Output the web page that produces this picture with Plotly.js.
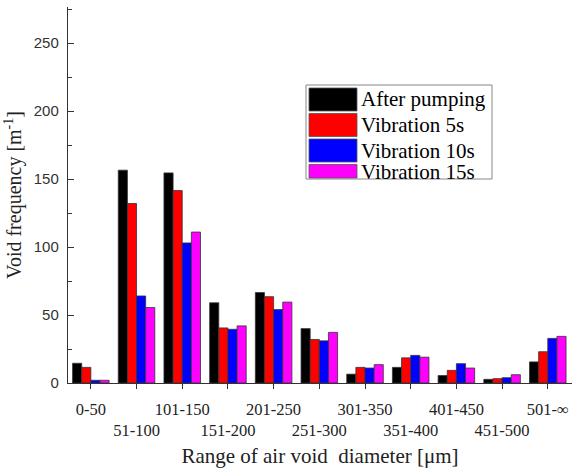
<!DOCTYPE html>
<html>
<head>
<meta charset="utf-8">
<script src="https://cdn.plot.ly/plotly-3.0.1.min.js"></script>
<style>html,body{margin:0;padding:0;background:#fff;}#chart{width:576px;height:472px;}</style>
</head>
<body>
<div id="chart"></div>
<script>
var categories = ["0-50","51-100","101-150","151-200","201-250","251-300","301-350","351-400","401-450","451-500","501-\u221e"];
var seriesNames = ["After pumping","Vibration 5s","Vibration 10s","Vibration 15s"];
var afterPumping = [14.5, 156.5, 154.5, 59, 66.5, 40, 6.5, 11.5, 5.5, 2.7, 15.5];
var vibration5s  = [11.5, 132, 141.5, 40.5, 63.5, 32, 11.5, 18.5, 9.3, 3.2, 23];
var vibration10s = [2, 64, 103, 39.5, 54, 31, 11, 20.3, 14.2, 3.9, 32.8];
var vibration15s = [2, 55.5, 111, 42, 59.5, 37.2, 13.5, 19, 11, 6.1, 34.3];
var colors = ["#000000","#ff0000","#0000ff","#ff00ff"];
var yTicks = [0, 50, 100, 150, 200, 250];

var SERIF = '"Liberation Serif", "Times New Roman", "DejaVu Serif", serif';
var SANS = '"Liberation Sans", Arial, sans-serif';

var allValues = [afterPumping, vibration5s, vibration10s, vibration15s];
var xIdx = categories.map(function(c, i){ return i; });
var tickText = categories.map(function(c, i){ return i % 2 === 0 ? c : "<br>" + c; });

var traces = allValues.map(function(vals, k){
  return {
    type: "bar", x: xIdx, y: vals, name: seriesNames[k],
    marker: {color: colors[k], line: {color: "#333333", width: 0.8}},
    showlegend: false
  };
});

var W = 576, H = 472, mL = 68, mR = 4, mT = 7, mB = 89;
var pw = W - mL - mR, ph = H - mT - mB;
function px(x){ return (x - mL) / pw; }
function py(y){ return 1 - (y - mT) / ph; }
var shapes = [];
shapes.push({type:"rect", xref:"paper", yref:"paper", x0:px(306), x1:px(492), y0:py(179), y1:py(85), line:{color:"#888888", width:1}, fillcolor:"rgba(0,0,0,0)"});
var swTop = [88, 113.5, 139, 164.5], swBot = [111, 136.5, 162, 178];
var txtY = [98.5, 124.5, 150.5, 172];
var annotations = [];
for (var k = 0; k < 4; k++) {
  shapes.push({type:"rect", xref:"paper", yref:"paper", x0:px(309), x1:px(357), y0:py(swBot[k]), y1:py(swTop[k]), line:{color:"#555555", width:0.8}, fillcolor: colors[k]});
  annotations.push({xref:"paper", yref:"paper", x:px(359), y:py(txtY[k]), xanchor:"left", yanchor:"middle", showarrow:false, text: seriesNames[k], font:{family:SERIF, size:21, color:"#000"}});
}

var layout = {
  width: W, height: H,
  margin: {l: mL, r: mR, t: mT, b: mB, pad: 0},
  paper_bgcolor: "#ffffff", plot_bgcolor: "#ffffff",
  barmode: "group", bargap: 0.2, bargroupgap: 0,
  showlegend: false,
  xaxis: {
    range: [-0.5, 10.53], tickmode: "array", tickvals: xIdx, ticktext: tickText, tickangle: 0,
    ticks: "outside", ticklen: 5, tickcolor: "#333", tickwidth: 1,
    showline: true, linecolor: "#333", linewidth: 1.2, showgrid: false, zeroline: false,
    tickfont: {family: SERIF, size: 16.5, color: "#222"},
    ticklabelstandoff: 6,
    title: {text: "Range of air void\u00a0 diameter [\u03bcm]", font: {family: SERIF, size: 21, color: "#222"}, standoff: 8}
  },
  yaxis: {
    range: [0, 276.5], tickmode: "array", tickvals: yTicks,
    ticks: "inside", ticklen: 6, tickcolor: "#333", tickwidth: 1,
    minor: {dtick: 25, ticks: "inside", ticklen: 4, tickcolor: "#333", tickwidth: 1, showgrid: false},
    showline: true, linecolor: "#333", linewidth: 1.2, showgrid: false, zeroline: false,
    tickfont: {family: SANS, size: 15, color: "#333"},
    ticklabelstandoff: 5,
    title: {text: "Void frequency [m<sup>-1</sup>]", font: {family: SERIF, size: 20, color: "#222"}, standoff: 6}
  },
  shapes: shapes,
  annotations: annotations
};

Plotly.newPlot("chart", traces, layout, {displayModeBar: false, staticPlot: true});
</script>
</body>
</html>
